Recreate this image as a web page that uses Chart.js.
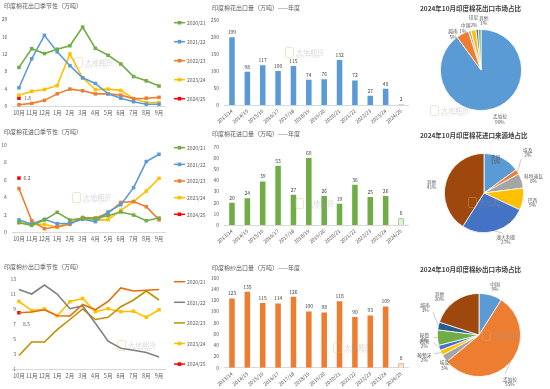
<!DOCTYPE html>
<html><head><meta charset="utf-8">
<script src="https://cdn.jsdelivr.net/npm/chart.js@4.4.1/dist/chart.umd.min.js"></script>
<style>
body{margin:0;background:#fff;width:550px;height:389px;overflow:hidden;position:relative;font-family:"Noto Sans CJK SC","Noto Sans",sans-serif;}
.box{position:absolute;}
.t{position:absolute;font-size:6px;color:#595959;white-space:nowrap;line-height:1;}
.tb{font-weight:bold;font-size:6.5px;color:#404040;}
.wm{position:absolute;opacity:.35;line-height:1;white-space:nowrap;color:#9a9a9a;}
.wm b{display:inline-block;width:7px;height:9px;border:1.5px solid #d9b46a;border-radius:2px;margin-right:2px;vertical-align:middle;}
.wm span{font-size:7px;vertical-align:middle;}
.wm i{display:block;font-style:normal;font-size:3px;margin-left:11px;margin-top:-2px;letter-spacing:.3px;}
</style></head><body>
<script>
// ---------- data ----------
const months = ['10月','11月','12月','1月','2月','3月','4月','5月','6月','7月','8月','9月'];
const seasons = ['2020/21','2021/22','2022/23','2023/24','2024/25'];
const years = ['2013/14','2014/15','2015/16','2016/17','2017/18','2018/19','2019/20','2020/21','2021/22','2022/23','2023/24','2024/25'];

const cottonExp2021 = [8.9,13.2,12.1,13.1,13.9,18.2,13.3,11.7,9.7,6.8,5.8,4.6];
const cottonExp2122 = [4.2,10.9,16.3,12.5,9.3,6.5,5.2,2.8,1.8,1.0,0.4,0.4];
const cottonExp2223 = [0.3,0.6,1.3,2.8,3.9,3.5,2.8,2.8,2.5,1.7,1.8,2.0];
const cottonExp2324 = [2.5,3.4,3.8,4.7,12.0,6.5,3.8,3.9,3.6,1.7,0.8,0.8];
const cottonExp2425 = [1.8];

const cottonImp2021 = [1.07,0.77,1.38,2.26,1.38,1.57,1.57,1.88,2.3,1.95,1.3,1.6];
const cottonImp2122 = [1.38,0.92,1.46,0.96,1.0,1.46,1.19,2.3,3.14,5.1,8.1,8.93];
const cottonImp2223 = [5.0,1.3,0.38,0.6,0.88,1.65,1.6,2.15,3.4,3.5,2.9,1.4];
const cottonImp2324 = [1.1,0.88,0.88,0.54,1.1,1.68,1.34,1.42,2.5,3.5,4.7,6.17];
const cottonImp2425 = [6.2];

const yarnExp2021 = [8.5,8.6,8.9,8.1,8.07,9.6,8.9,10.0,11.8,11.4,11.5,11.6];
const yarnExp2122 = [11.6,11.0,12.2,11.0,9.04,9.4,7.1,4.7,3.76,3.5,3.2,2.6];
const yarnExp2223 = [2.8,4.6,4.6,6.24,7.6,9.0,7.6,7.9,9.3,10.2,11.4,10.2];
const yarnExp2324 = [10.0,8.8,9.0,8.1,9.98,10.4,8.64,9.04,8.64,8.7,7.9,8.9];
const yarnExp2425 = [8.5];

const cottonExpYear = [199,98,117,100,115,74,76,132,72,27,48,2];
const cottonImpYear = [20,24,39,53,27,60,26,19,36,25,26,6];
const yarnExpYear = [123,135,115,114,126,100,98,118,90,93,109,8];

const pie1Labels = ['孟加拉','越南','','中国','印尼','其他'];
const pie1Values = [90,5,1,2,1,1];
const pie2Labels = ['美国','埃及','科特迪瓦','巴西','澳大利亚','其他'];
const pie2Values = [15,2,6,9,27,41];
const pie3Labels = ['中国','孟加拉','埃及','葡萄牙','韩国','秘鲁','越南','其他'];
const pie3Values = [9,55,3,2,2,6,3,20];

const titles = {
  l1:'印度棉花出口季节性（万吨）', b1:'印度棉花出口量（万吨）——年度', p1:'2024年10月印度棉花出口市场占比',
  l2:'印度棉花进口季节性（万吨）', b2:'印度棉花进口量（万吨）——年度', p2:'2024年10月印度棉花进口来源地占比',
  l3:'印度棉纱出口季节性（万吨）', b3:'印度棉纱出口量（万吨）——年度', p3:'2024年10月印度棉纱出口市场占比'
};

// ---------- setup ----------
const FONT = '"Noto Sans CJK SC","Noto Sans",sans-serif';
Chart.defaults.font.family = FONT;
Chart.defaults.color = '#595959';
const TXT = '#595959';

function addText(txt, x, y, cls){ const d=document.createElement('div'); d.className='t '+(cls||''); d.style.left=x+'px'; d.style.top=y+'px'; d.textContent=txt; document.body.appendChild(d); }
function addWm(x,y){ const d=document.createElement('div'); d.className='wm'; d.style.left=x+'px'; d.style.top=y+'px'; d.innerHTML='<b></b><span>大地期货</span><i>DADI FUTURES</i>'; document.body.appendChild(d); }
function mk(box, cfg){ const d=document.createElement('div'); d.className='box'; d.style.left=box[0]+'px'; d.style.top=box[1]+'px'; d.style.width=box[2]+'px'; d.style.height=box[3]+'px'; const c=document.createElement('canvas'); d.appendChild(c); document.body.appendChild(d); return new Chart(c,cfg); }

const sideLegend = { id:'sideLegend', afterDraw(chart, a, o){
  const ctx=chart.ctx; ctx.save();
  chart.data.datasets.forEach((ds,i)=>{
    const y=o.y0+i*o.dy;
    ctx.strokeStyle=ds.borderColor; ctx.lineWidth=1.5; ctx.beginPath(); ctx.moveTo(o.x,y); ctx.lineTo(o.x+11,y); ctx.stroke();
    if(ds.pointRadius>0){ ctx.fillStyle=ds.borderColor; ctx.fillRect(o.x+5.5-1.8,y-1.8,3.6,3.6); }
    ctx.fillStyle=TXT; ctx.font='5px '+FONT; ctx.textBaseline='middle'; ctx.textAlign='left'; ctx.fillText(ds.label,o.x+13,y+0.3);
  });
  ctx.restore(); } };

const ptLabel = { id:'ptLabel', afterDatasetsDraw(chart,a,o){
  const meta=chart.getDatasetMeta(o.ds); const p=meta.data[0]; const v=chart.data.datasets[o.ds].data[0];
  const ctx=chart.ctx; ctx.save(); ctx.fillStyle=TXT; ctx.font='5px '+FONT; ctx.textAlign='left'; ctx.textBaseline='middle';
  ctx.fillText(v.toFixed(1), p.x+o.dx, p.y+o.dy); ctx.restore(); } };

const barVal = { id:'barVal', afterDatasetsDraw(chart){
  const meta=chart.getDatasetMeta(0); const ctx=chart.ctx; ctx.save(); ctx.fillStyle='#404040'; ctx.font='5px '+FONT; ctx.textAlign='center'; ctx.textBaseline='bottom';
  meta.data.forEach((b,i)=>ctx.fillText(chart.data.datasets[0].data[i], b.x, b.y-2.5)); ctx.restore(); } };

const pieLab = { id:'pieLab', afterDatasetsDraw(chart,a,o){
  const meta=chart.getDatasetMeta(0); const ctx=chart.ctx; const labels=chart.data.labels; const vals=chart.data.datasets[0].data;
  ctx.save(); ctx.font='4.8px '+FONT; ctx.fillStyle=TXT; ctx.textAlign='center'; ctx.textBaseline='middle'; ctx.strokeStyle='#A6A6A6'; ctx.lineWidth=0.6;
  meta.data.forEach((arc,i)=>{
    const st=o.styles[i]; const m0=(arc.startAngle+arc.endAngle)/2; const m=m0+st.da*Math.PI/180; const R=arc.outerRadius;
    const lx=arc.x+Math.cos(m)*R*st.f, ly=arc.y+Math.sin(m)*R*st.f;
    if(st.ln){ ctx.beginPath(); ctx.moveTo(arc.x+Math.cos(m0)*R, arc.y+Math.sin(m0)*R); const e=R*st.f-(st.le||8); ctx.lineTo(arc.x+Math.cos(m)*e, arc.y+Math.sin(m)*e); ctx.stroke(); }
    let lines;
    if(st.m==='one') lines=[labels[i]+vals[i]+'%']; else if(st.m==='name') lines=[labels[i]]; else if(st.m==='pct') lines=[vals[i]+'%']; else lines=[labels[i], vals[i]+'%'];
    lines.forEach((t,k)=>ctx.fillText(t, lx, ly+(k-(lines.length-1)/2)*5.2));
  });
  ctx.restore(); } };

function lineChart(box, area, series, colors, markers, yMin, yMax, step, legend, pl, yTick){
  const W=box[2], H=box[3];
  const datasets=series.map((d,i)=>({label:seasons[i], data:d, borderColor:colors[i], backgroundColor:colors[i], borderWidth:1.6,
    pointStyle:'rect', pointRadius:markers[i]?2.5:0, pointBorderWidth:0, tension:0, clip:false}));
  return mk(box,{type:'line', data:{labels:months, datasets}, plugins:[sideLegend, ptLabel], options:{
    responsive:true, maintainAspectRatio:false, animation:false, events:[],
    layout:{padding:{left:0, top:area[1], right:W-area[2], bottom:0}},
    plugins:{legend:{display:false}, tooltip:{enabled:false}, sideLegend:legend, ptLabel:pl},
    scales:{
      x:{offset:true, grid:{display:false, drawTicks:false}, border:{color:'#D9D9D9'}, ticks:{color:TXT, font:{size:5.5}, padding:4, maxRotation:0, autoSkip:false},
         afterFit:s=>{s.height=H-area[3];}},
      y:{min:yMin, max:yMax, grid:{display:false, drawTicks:false}, border:{display:false},
         ticks:Object.assign({stepSize:step, color:TXT, font:{size:5}}, yTick),
         afterFit:s=>{s.width=area[0];}}
    }}});
}

function barChart(box, area, values, color, light, yMax, step){
  const W=box[2], H=box[3];
  const bg=values.map((v,i)=>i===values.length-1?light:color);
  const bw=values.map((v,i)=>i===values.length-1?0.8:0);
  return mk(box,{type:'bar', data:{labels:years, datasets:[{data:values, backgroundColor:bg, borderColor:color, borderWidth:bw, barPercentage:0.36, categoryPercentage:1}]},
    plugins:[barVal], options:{
    responsive:true, maintainAspectRatio:false, animation:false, events:[],
    layout:{padding:{left:0, top:area[1], right:W-area[2], bottom:0}},
    plugins:{legend:{display:false}, tooltip:{enabled:false}},
    scales:{
      x:{grid:{display:false, drawTicks:false}, border:{color:'#D9D9D9'}, ticks:{color:TXT, font:{size:5}, padding:3, minRotation:40, maxRotation:40, autoSkip:false},
         afterFit:s=>{s.height=H-area[3];}},
      y:{min:0, max:yMax, grid:{display:false, drawTicks:false}, border:{display:false}, ticks:{stepSize:step, color:TXT, font:{size:5}, padding:5.3},
         afterFit:s=>{s.width=area[0];}}
    }}});
}

function pieChart(box, pad, labels, values, colors, styles){
  return mk(box,{type:'pie', data:{labels, datasets:[{data:values, backgroundColor:colors, borderColor:'#fff', borderWidth:0.8}]},
    plugins:[pieLab], options:{responsive:true, maintainAspectRatio:false, animation:false, events:[],
    layout:{padding:pad}, plugins:{legend:{display:false}, tooltip:{enabled:false}, pieLab:{styles}}}});
}

// ---------- row 1 ----------
const c5 = ['#70AD47','#5B9BD5','#ED7D31','#FFC000','#FF0000'];
lineChart([0,0,215,125],[12.6,19.3,165.4,106],[cottonExp2021,cottonExp2122,cottonExp2223,cottonExp2324,cottonExp2425],c5,[1,1,1,1,1],0,20,2,
  {x:174,y0:22.7,dy:19},{ds:4,dx:5,dy:0},{padding:5.3});
barChart([205,0,205,125],[19.3,20,203.7,105],cottonExpYear,'#5B9BD5','#BDD7EE',250,50);
pieChart([410,0,140,125],{left:30,right:28,top:29,bottom:14},pie1Labels,pie1Values,
  ['#5B9BD5','#ED7D31','#A5A5A5','#FFC000','#4472C4','#70AD47'],
  [{f:1.3,da:-3},{f:1.12,da:-11},{f:1.05,da:-9,m:'pct'},{f:1.14,da:-4,m:'one'},{f:1.31,da:-3,m:'name'},{f:1.22,da:5}]);

// ---------- row 2 ----------
lineChart([0,125,215,130],[12.6,20,165.4,107],[cottonImp2021,cottonImp2122,cottonImp2223,cottonImp2324,cottonImp2425],c5,[1,1,1,1,1],0,10,1,
  {x:174,y0:22.7,dy:16.65},{ds:4,dx:4.5,dy:0},{padding:5.8});
barChart([205,125,205,130],[19.3,21.7,203.7,100],cottonImpYear,'#70AD47','#E2F0D9',70,10);
pieChart([410,125,140,130],{left:34,right:26,top:28,bottom:22},pie2Labels,pie2Values,
  ['#5B9BD5','#ED7D31','#A5A5A5','#FFC000','#4472C4','#9E480E'],
  [{f:0.9,da:-8},{f:1.5,da:-10,ln:1,le:9},{f:1.3,da:2,ln:1,le:12},{f:1.25,da:2,ln:1,le:8},{f:1.3,da:-9,ln:1,le:7},{f:1.34,da:-7}]);

// ---------- row 3 ----------
lineChart([0,255,215,134],[12.6,24,165.4,114],[yarnExp2021,yarnExp2122,yarnExp2223,yarnExp2324,yarnExp2425],
  ['#E46C0A','#808080','#BF9000','#FFC000','#FF0000'],[0,0,0,1,1],1,13,2,
  {x:174,y0:26.7,dy:20.6},{ds:4,dx:4,dy:11},{mirror:true, crossAlign:'far', padding:-2.2});
barChart([205,255,205,134],[19.3,22.7,203.7,112.7],yarnExpYear,'#ED7D31','#FBE5D6',160,20);
pieChart([410,255,140,134],{left:27,right:29,top:38,bottom:12},pie3Labels,pie3Values,
  ['#5B9BD5','#ED7D31','#A5A5A5','#FFC000','#4472C4','#70AD47','#255E91','#9E480E'],
  [{f:1.23,da:2},{f:1.34,da:15,ln:1,le:9},{f:1.1,da:-7},{f:1.42,da:3,ln:1,le:10},{f:1.33,da:9,ln:1,le:9},{f:1.31,da:1,ln:1,le:9},{f:1.45,da:14,ln:1,le:9},{f:1.32,da:-10}]);

// ---------- titles & watermarks ----------
addText(titles.l1,4,3); addText(titles.b1,212,4.5); addText(titles.p1,420,5,'tb');
addText(titles.l2,4,129); addText(titles.b2,212,131); addText(titles.p2,420,132,'tb');
addText(titles.l3,4,264); addText(titles.b3,212,265); addText(titles.p3,420,266,'tb');
addWm(74,52); addWm(285,42); addWm(430,100);
addWm(72,187); addWm(295,193); addWm(468,192);
addWm(117,335); addWm(333,337); addWm(482,325);
</script>
</body></html>
